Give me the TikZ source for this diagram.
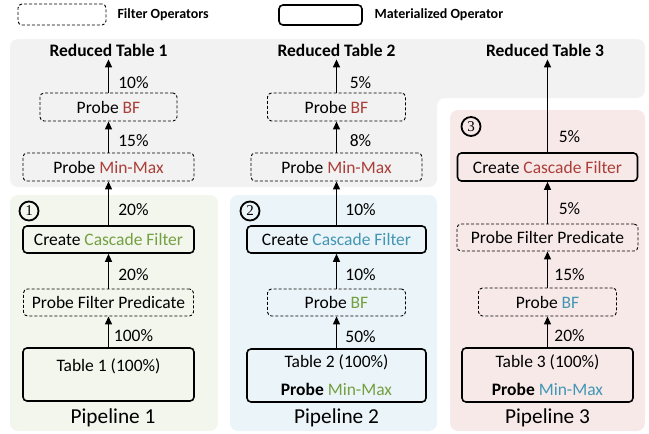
\documentclass[tikz,border=0pt]{standalone}
\usepackage{fontspec}
\setmainfont{Carlito}
\newfontfamily\numfont{Liberation Serif}
\usetikzlibrary{arrows.meta}
\definecolor{cred}{RGB}{170,62,56}
\definecolor{cgreen}{RGB}{116,160,66}
\definecolor{cblue}{RGB}{66,150,180}
\definecolor{bggray}{RGB}{242,242,242}
\definecolor{bggreen}{RGB}{242,246,236}
\definecolor{bgblue}{RGB}{235,244,248}
\definecolor{bgpink}{RGB}{248,233,233}
\newcommand{\fmain}{\fontsize{17.5}{28}\selectfont}
\newcommand{\fpipe}{\fontsize{21.3}{24}\selectfont}
\newcommand{\flegend}{\fontsize{14}{16}\selectfont\bfseries}
\tikzset{
  filt/.style={draw, dash pattern=on 3pt off 2pt, line width=0.9pt, rounded corners=4pt, inner sep=0pt, font=\fmain},
  mat/.style={draw, line width=1.6pt, rounded corners=4pt, inner sep=0pt, font=\fmain, align=center},
  arr/.style={-{Triangle[length=8pt,width=7pt]}, line width=1.3pt},
  lbl/.style={font=\fmain, inner sep=0pt},
  rtab/.style={font=\fmain\bfseries, inner sep=3pt},
  pipe/.style={font=\fpipe},
  num/.style={draw, circle, line width=1.8pt, minimum size=19pt, inner sep=0pt, font=\numfont\fontsize{15}{15}\selectfont},
}
\begin{document}
\begin{tikzpicture}[x=1pt,y=-1pt]
\useasboundingbox (0,0) rectangle (649,434);
% backgrounds
\fill[bggray, rounded corners=8pt] (10,39) -- (645,39) -- (645,98) -- (437,98) -- (437,187) -- (10,187) -- cycle;
\fill[bggreen, rounded corners=8pt] (10,195) rectangle (218,431);
\fill[bgblue, rounded corners=8pt] (230,195) rectangle (437,431);
\fill[bgpink, rounded corners=8pt] (450,110) rectangle (645,431);
% legend
\node[filt, minimum width=88pt, minimum height=21pt] (lgf) at (62,14.5) {};
\node[font=\flegend, anchor=west] (lgft) at (114,15) {Filter Operators};
\node[mat, minimum width=83pt, minimum height=20pt] (lgm) at (320.5,15) {};
\node[font=\flegend, anchor=west] (lgmt) at (371,15) {Materialized Operator};
% ---------- column 1
\node[rtab] (rt1) at (108.5,50) {Reduced Table 1};
\node[filt, minimum width=137pt, minimum height=28pt] (pbf1) at (108.5,107) {Probe \textcolor{cred}{BF}};
\node[filt, minimum width=171pt, minimum height=28pt] (pmm1) at (108.5,167) {Probe \textcolor{cred}{Min-Max}};
\node[mat, minimum width=171pt, minimum height=27pt] (ccf1) at (108.5,239.5) {Create \textcolor{cgreen}{Cascade Filter}};
\node[filt, minimum width=170pt, minimum height=27pt] (pfp1) at (108.5,302.5) {Probe Filter Predicate};
\node[mat, minimum width=171pt, minimum height=53pt] (t1) at (108.5,374.5) {};
\node[font=\fmain] (t1t) at ([yshift=8pt]t1.center) {Table 1 (100\%)};
\node[pipe] (p1) at (113,418) {Pipeline 1};
\node[num] (n1) at (29,211) {1};
\draw[arr] (t1) -- node[lbl, pos=0.37, xshift=25pt] {100\%} (pfp1);
\draw[arr] (pfp1) -- node[lbl, pos=0.39, xshift=25pt] {20\%} (ccf1);
\draw[arr] (ccf1) -- node[lbl, pos=0.36, xshift=25pt] {20\%} (pmm1);
\draw[arr] (pmm1) -- node[lbl, pos=0.4, xshift=25pt] {15\%} (pbf1);
\draw[arr] (pbf1) -- node[lbl, pos=0.3, xshift=25pt] {10\%} (rt1);
% ---------- column 2
\node[rtab] (rt2) at (336.5,50) {Reduced Table 2};
\node[filt, minimum width=138pt, minimum height=28pt] (pbf2) at (336.5,107) {Probe \textcolor{cred}{BF}};
\node[filt, minimum width=171pt, minimum height=28pt] (pmm2) at (336.5,167) {Probe \textcolor{cred}{Min-Max}};
\node[mat, minimum width=179pt, minimum height=27pt] (ccf2) at (336.5,239.5) {Create \textcolor{cblue}{Cascade Filter}};
\node[filt, minimum width=138pt, minimum height=27pt] (pbfb2) at (336.5,302.5) {Probe \textcolor{cgreen}{BF}};
\node[mat, minimum width=179pt, minimum height=53pt] (t2) at (336.5,375.5) {Table 2 (100\%)\\\textbf{Probe} \textcolor{cgreen}{Min-Max}};
\node[pipe] (p2) at (336.5,418) {Pipeline 2};
\node[num] (n2) at (250,211) {2};
\draw[arr] (t2) -- node[lbl, pos=0.37, xshift=24pt] {50\%} (pbfb2);
\draw[arr] (pbfb2) -- node[lbl, pos=0.39, xshift=24pt] {10\%} (ccf2);
\draw[arr] (ccf2) -- node[lbl, pos=0.36, xshift=24pt] {10\%} (pmm2);
\draw[arr] (pmm2) -- node[lbl, pos=0.4, xshift=24pt] {8\%} (pbf2);
\draw[arr] (pbf2) -- node[lbl, pos=0.3, xshift=24pt] {5\%} (rt2);
% ---------- column 3
\node[rtab] (rt3) at (545,50) {Reduced Table 3};
\node[mat, minimum width=180pt, minimum height=28pt] (ccf3) at (547.5,167) {Create \textcolor{cred}{Cascade Filter}};
\node[filt, minimum width=181pt, minimum height=27pt] (pfp3) at (547.5,237.5) {Probe Filter Predicate};
\node[filt, minimum width=138pt, minimum height=28pt] (pbf3) at (547.5,302) {Probe \textcolor{cblue}{BF}};
\node[mat, minimum width=171pt, minimum height=54pt] (t3) at (547.5,375) {Table 3 (100\%)\\\textbf{Probe} \textcolor{cblue}{Min-Max}};
\node[pipe] (p3) at (547.5,418) {Pipeline 3};
\node[num] (n3) at (471,126.5) {3};
\draw[arr] (t3) -- node[lbl, pos=0.37, xshift=22pt] {20\%} (pbf3);
\draw[arr] (pbf3) -- node[lbl, pos=0.35, xshift=22pt] {15\%} (pfp3);
\draw[arr] (pfp3) -- node[lbl, pos=0.37, xshift=22pt] {5\%} (ccf3);
\draw[arr] (ccf3.north) -- node[lbl, pos=0.17, xshift=22pt] {5\%} (ccf3.north |- rt3.south);
\end{tikzpicture}
\end{document}
